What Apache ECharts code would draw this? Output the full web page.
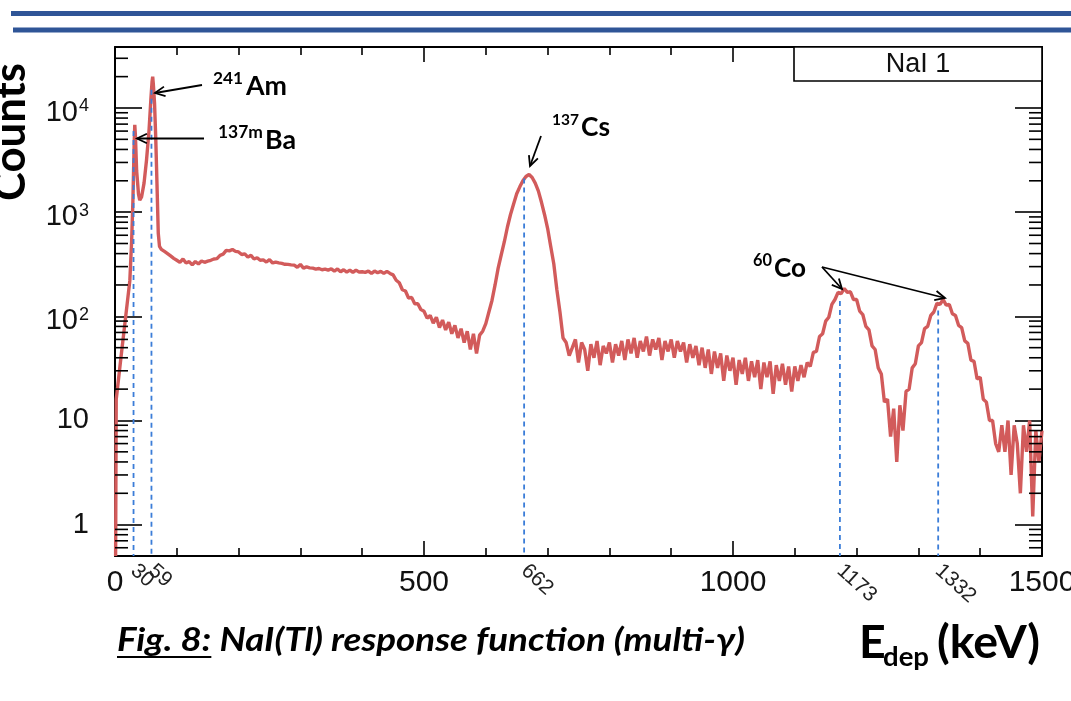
<!DOCTYPE html>
<html><head><meta charset="utf-8">
<script src="https://cdn.jsdelivr.net/npm/echarts@6/dist/echarts.min.js"></script>
<style>html,body{margin:0;padding:0;background:#fff;overflow:hidden}#c{width:1071px;height:701px}</style>
</head><body><div id="c"></div>
<script>
// ---- data ----
const lowEnergy = [1,2,3,10,17,24,27,29,31,32,33,35,38,40,43,47,51,55,58,60,61,62,64,66,68,70,72,75,80,85,90,95];
const lowCounts = [0.5,16,18,42,96,220,540,1300,4500,6900,5500,2500,1500,1300,1400,1900,3160,6000,12000,18000,20000,17000,11000,5000,1800,630,470,440,420,400,380,360];
const binStart = 100;
const binWidth = 5;
const binCounts = [
 345,330,355,325,335,312,336,318,340,330,338,345,355,358,385,395,430,425,438,420,
 415,392,398,370,385,355,365,345,348,332,350,325,332,326,322,316,315,312,310,296,
 315,290,298,292,290,284,288,280,284,278,286,272,285,268,280,266,278,264,278,266,
 268,264,272,258,272,262,270,258,270,258,250,222,210,180,175,150,152,132,132,116,
 112,96,102,86,98,78,92,74,88,68,82,62,76,56,72,48,68,44,66,72,
 85,110,142,200,290,390,520,720,950,1200,1500,1750,2000,2200,2300,2150,1900,1600,1250,950,
 700,470,320,180,110,62,56,42,50,60,36,56,48,30,54,40,58,34,52,44,
 56,36,54,42,58,38,60,44,62,40,58,46,64,42,60,48,62,38,58,46,
 60,40,58,46,56,36,54,40,52,34,50,32,48,28,46,32,44,24,42,30,
 40,22,38,28,40,24,37,26,38,20,36,26,37,18,34,24,35,22,33,19,
 33,24,34,26,36,33,45,46,64,68,90,98,130,145,170,165,185,170,172,145,
 145,112,104,80,74,52,48,32,28,15,16,7,13,4,14,8,19,20,32,35,
 52,56,76,80,102,110,133,130,145,128,130,106,102,82,78,58,55,38,37,25,
 26,16,15,10,10,6,5,9,5,10,3,9,6,2,9,5,10,1.2,8,4,
 8];
const peakEnergies = [30, 59, 662, 1173, 1332];
const peakHeights = [6000, 15000, 2100, 140, 114];
const peakLabels = ['30', '59', '662', '1173', '1332'];
const yMinorTicks = [0.6,0.7,0.8,0.9,2,3,4,5,6,7,8,9,20,30,40,50,60,70,80,90,200,300,400,500,600,700,800,900,2000,3000,4000,5000,6000,7000,8000,9000,20000,30000];
const xMin = 0, xMax = 1500, xStep = 500;
const yMin = 0.5, yMax = 38500;

const spectrum = lowEnergy.map((e, i) => [e, lowCounts[i]])
  .concat(binCounts.map((c, i) => [binStart + i * binWidth, c]));

// ---- helpers ----
const mctx = document.createElement('canvas').getContext('2d');
function textW(str, font) { mctx.font = font; return mctx.measureText(str).width; }
function fit(str, pre, family, target) { return 100 * target / textW(str, pre + ' 100px ' + family); }
const CAL = 'Lato, "Open Sans", sans-serif';
const HEL = '"Liberation Sans", Arial, sans-serif';

function yFmt(v) {
  const e = Math.round(Math.log10(v));
  if (Math.abs(v / Math.pow(10, e) - 1) > 1e-6) return '';
  if (e === 0) return '1';
  if (e === 1) return '10';
  return '{b|10}{s|' + e + '}';
}

function arrow(x1, y1, x2, y2) {
  const a = Math.atan2(y2 - y1, x2 - x1), L = 11, h = 0.45;
  return [
    {type: 'line', z: 20, shape: {x1, y1, x2, y2}, style: {stroke: '#000', lineWidth: 1.8}},
    {type: 'polyline', z: 20, shape: {points: [[x2 - L * Math.cos(a - h), y2 - L * Math.sin(a - h)], [x2, y2], [x2 - L * Math.cos(a + h), y2 - L * Math.sin(a + h)]]},
     style: {stroke: '#000', lineWidth: 1.8, fill: null}}
  ];
}
function txt(str, x, y, size, weight) {
  return {type: 'text', z: 20, x, y, style: {text: str, font: weight + ' ' + size + 'px ' + CAL, fill: '#000', align: 'left', verticalAlign: 'middle'}};
}

const chart = echarts.init(document.getElementById('c'), null, {renderer: 'canvas'});

const tickStyle = {color: '#000', width: 1.6};
const lineStyle = {color: '#000', width: 2};

const capFont = 'italic bold';
const capText = 'Fig. 8: NaI(Tl) response function (multi-\u03b3)';
const capSize = 33;
const capScale = 628 / textW(capText, capFont + ' ' + capSize + 'px ' + CAL);
const figW = textW('Fig. 8:', capFont + ' ' + capSize + 'px ' + CAL) * capScale;
const countsSize = fit('Counts', 'bold', CAL, 138);
const amS = fit('Am', 'bold', CAL, 41), baS = fit('Ba', 'bold', CAL, 31), csS = fit('Cs', 'bold', CAL, 29), coS = fit('Co', 'bold', CAL, 32);
const s241 = fit('241', 'bold', CAL, 30), s137m = fit('137m', 'bold', CAL, 45), s137 = fit('137', 'bold', CAL, 27), s60 = fit('60', 'bold', CAL, 19);
const eS = fit('(keV)', 'bold', CAL, 103);
const depS = fit('dep', 'bold', CAL, 46);

const graphics = [
  {type: 'line', z: 20, shape: {x1: 11, y1: 13.5, x2: 1071, y2: 13.5}, style: {stroke: '#2f5597', lineWidth: 5}},
  {type: 'line', z: 20, shape: {x1: 13, y1: 30, x2: 1071, y2: 30}, style: {stroke: '#2f5597', lineWidth: 5}},
  {type: 'rect', z: 20, shape: {x: 794, y: 47, width: 248, height: 34}, style: {fill: '#fff', stroke: '#000', lineWidth: 1.6}},
  {type: 'text', z: 21, x: 918, y: 65, style: {text: 'NaI 1', font: '27px ' + HEL, fill: '#111', align: 'center', verticalAlign: 'middle'}},
  txt('241', 213, 78, s241, 'bold'), txt('Am', 246, 86, amS, 'bold'),
  txt('137m', 218, 132, s137m, 'bold'), txt('Ba', 265, 140, baS, 'bold'),
  txt('137', 552, 120, s137, 'bold'), txt('Cs', 581, 128, csS, 'bold'),
  txt('60', 753, 261, s60, 'bold'), txt('Co', 774, 269, coS, 'bold'),
  {type: 'text', z: 20, x: 33, y: 132, rotation: Math.PI / 2, style: {text: 'Counts', font: 'bold ' + countsSize + 'px ' + CAL, fill: '#000', align: 'center', verticalAlign: 'bottom'}},
  {type: 'text', z: 20, x: 117, y: 640, scaleX: capScale, style: {text: capText, font: capFont + ' ' + capSize + 'px ' + CAL, fill: '#000', align: 'left', verticalAlign: 'middle'}},
  {type: 'line', z: 20, shape: {x1: 117, y1: 657, x2: 117 + figW, y2: 657}, style: {stroke: '#000', lineWidth: 2}},
  txt('E', 859, 643, eS, 'bold'),
  txt('dep', 883, 657, depS, 'bold'),
  txt('(keV)', 937, 643, eS, 'bold')
].concat(
  arrow(202, 85, 155, 93),
  arrow(204, 138.5, 137, 138.5),
  arrow(541, 136, 530, 166),
  arrow(822, 267, 842, 289),
  arrow(822, 267, 945, 298)
);

function peakLabelAxis(values) {
  return {type: 'value', min: xMin, max: xMax, position: 'bottom',
    axisLine: {show: false, onZero: false}, axisTick: {show: false}, splitLine: {show: false},
    axisLabel: {show: true, customValues: values, interval: 0, showMinLabel: true, showMaxLabel: true, hideOverlap: false,
      rotate: -42, margin: 12, fontSize: 21, fontFamily: HEL, color: '#222',
      formatter: v => { const i = peakEnergies.indexOf(v); return i >= 0 ? peakLabels[i] : ''; }}};
}

const option = {
  animation: false,
  backgroundColor: '#fff',
  grid: {left: 115, right: 29, top: 47, bottom: 145, containLabel: false, outerBoundsMode: 'none'},
  xAxis: [
    {type: 'value', min: xMin, max: xMax, interval: xStep, position: 'bottom',
     axisLine: {show: true, onZero: false, lineStyle: lineStyle},
     axisTick: {show: true, inside: true, length: 15, lineStyle: tickStyle},
     minorTick: {show: true, splitNumber: 5, length: 8, lineStyle: tickStyle},
     splitLine: {show: false}, minorSplitLine: {show: false},
     axisLabel: {margin: 12, fontSize: 30, fontFamily: HEL, color: '#111', formatter: v => String(v),
       showMinLabel: true, showMaxLabel: true, hideOverlap: false}},
    {type: 'value', min: xMin, max: xMax, interval: xStep, position: 'top',
     axisLine: {show: true, onZero: false, lineStyle: lineStyle},
     axisTick: {show: true, inside: true, length: 15, lineStyle: tickStyle},
     minorTick: {show: true, splitNumber: 5, length: 8, lineStyle: tickStyle},
     splitLine: {show: false}, axisLabel: {show: false}},
    peakLabelAxis(peakEnergies.filter((e, i) => i % 2 === 0)),
    peakLabelAxis(peakEnergies.filter((e, i) => i % 2 === 1))
  ],
  yAxis: [
    {type: 'log', logBase: 10, min: yMin, max: yMax, position: 'left',
     axisLine: {show: true, onZero: false, lineStyle: lineStyle},
     axisTick: {show: true, inside: true, length: 27, lineStyle: tickStyle},
     splitLine: {show: false},
     axisLabel: {show: true, margin: 26, fontSize: 29, fontFamily: HEL, color: '#111', formatter: yFmt,
       showMinLabel: false, showMaxLabel: false,
       rich: {b: {fontSize: 29, fontFamily: HEL, color: '#111', padding: [10, 0, 0, 0], verticalAlign: 'bottom'},
              s: {fontSize: 18, fontFamily: HEL, color: '#111', padding: [9, 0, 0, 1], verticalAlign: 'top'}}}},
    {type: 'log', logBase: 10, min: yMin, max: yMax, position: 'right',
     axisLine: {show: true, onZero: false, lineStyle: lineStyle},
     axisTick: {show: true, inside: true, length: 27, lineStyle: tickStyle},
     splitLine: {show: false}, axisLabel: {show: false}}
  ],
  series: [
    {type: 'line', name: 'NaI 1', xAxisIndex: 0, yAxisIndex: 0, data: spectrum, showSymbol: false, symbol: 'none',
     lineStyle: {color: '#d25b5b', width: 3.4}, z: 2, silent: true},
    {type: 'custom', xAxisIndex: 0, yAxisIndex: 0, z: 3, silent: true, clip: false,
     data: peakEnergies.map((e, i) => [e, peakHeights[i]]),
     renderItem: (p, api) => {
       const t = api.coord([api.value(0), api.value(1)]);
       const b = api.coord([api.value(0), yMin]);
       return {type: 'line', shape: {x1: t[0], y1: t[1], x2: b[0], y2: b[1]}, style: {stroke: '#3b7dd8', lineWidth: 1.8, lineDash: [5, 4]}};
     }},
    {type: 'custom', xAxisIndex: 0, yAxisIndex: 0, z: 3, silent: true, clip: false,
     data: yMinorTicks.map(v => [xMin, v]),
     renderItem: (p, api) => {
       const v = api.value(1);
       const l = api.coord([xMin, v]), r = api.coord([xMax, v]);
       return {type: 'group', children: [
         {type: 'line', shape: {x1: l[0], y1: l[1], x2: l[0] + 13, y2: l[1]}, style: {stroke: '#000', lineWidth: 1.6}},
         {type: 'line', shape: {x1: r[0] - 13, y1: r[1], x2: r[0], y2: r[1]}, style: {stroke: '#000', lineWidth: 1.6}}
       ]};
     }}
  ],
  graphic: graphics
};
chart.setOption(option);
</script></body></html>
